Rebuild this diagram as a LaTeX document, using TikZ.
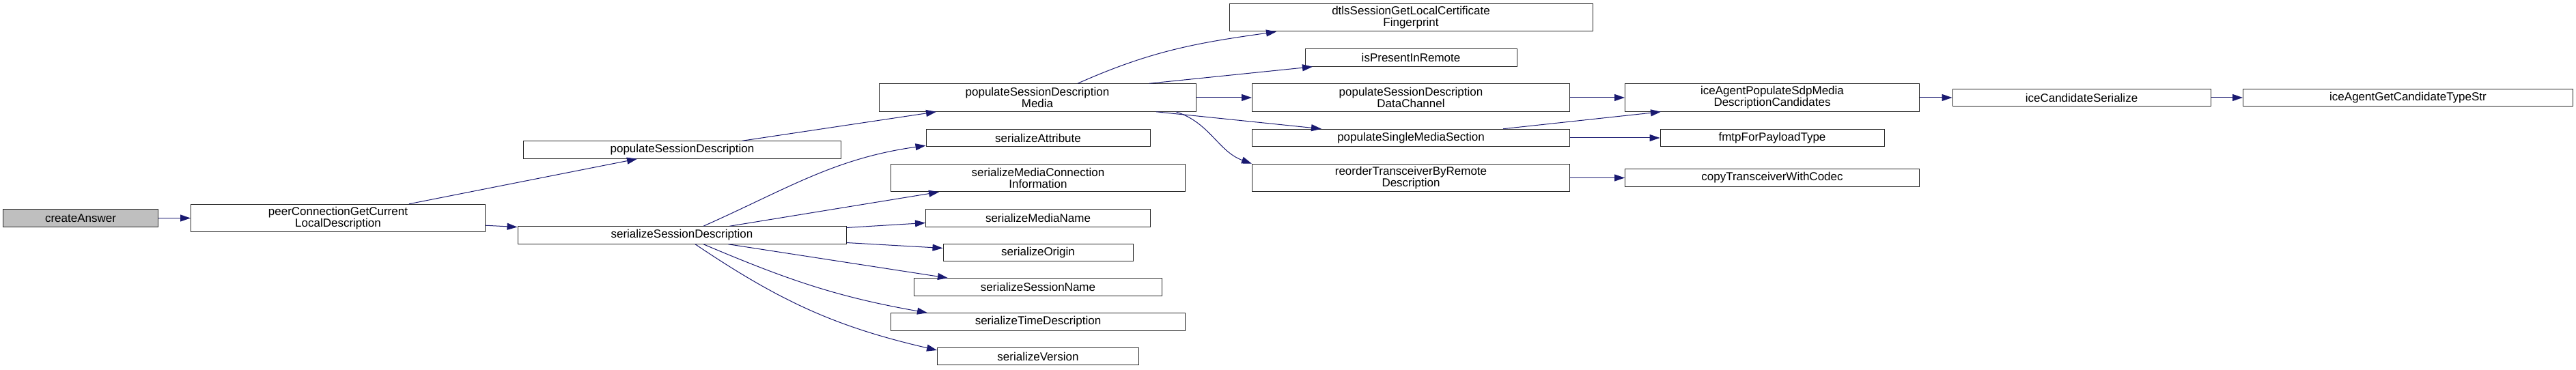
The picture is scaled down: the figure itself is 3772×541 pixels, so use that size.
\documentclass[tikz,border=0pt]{standalone}
\usepackage{fontspec}
\setmainfont{Liberation Sans}
\usetikzlibrary{arrows.meta}
\definecolor{EdgeClr}{RGB}{25,25,112}
\definecolor{RootClr}{RGB}{191,191,191}
\definecolor{FrameClr}{RGB}{40,40,40}

\begin{document}
\begin{tikzpicture}[x=1pt,y=1pt]
\tikzset{fn/.style={draw=FrameClr,fill=white,line width=1pt,inner sep=0pt,align=center,
    font=\fontsize{17}{17}\selectfont,minimum height=25.5pt},
  fntwo/.style={fn,minimum height=40.5pt},
  call/.style={draw=EdgeClr,line width=1pt,-{Triangle[length=15pt,width=10pt]}}}

\useasboundingbox (0,0) rectangle (3772,541);

\node[fn,fill=RootClr,minimum width=227pt] (createAns) at (118,221.5) {createAnswer};
\node[fntwo,minimum width=431pt] (getLocal) at (495,221.5) {peerConnectionGetCurrent\\LocalDescription};

\node[fn,minimum width=465pt] (popSD) at (999,321.5) {populateSessionDescription};
\node[fn,minimum width=481pt] (serSD) at (998.5,196.5) {serializeSessionDescription};

\node[fntwo,minimum width=464pt] (popMedia) at (1519,398) {populateSessionDescription\\Media};
\node[fn,minimum width=328pt] (serAttr) at (1520,339) {serializeAttribute};
\node[fntwo,minimum width=431pt] (serConn) at (1520,280.5) {serializeMediaConnection\\Information};
\node[fn,minimum width=329pt] (serName) at (1520,221.5) {serializeMediaName};
\node[fn,minimum width=278pt] (serOrigin) at (1520,171) {serializeOrigin};
\node[fn,minimum width=363pt] (serSess) at (1520,120.5) {serializeSessionName};
\node[fn,minimum width=431pt] (serTime) at (1520,69.5) {serializeTimeDescription};
\node[fn,minimum width=295pt] (serVer) at (1520,19) {serializeVersion};

\node[fntwo,minimum width=532pt] (dtlsFp) at (2066,515.3) {dtlsSessionGetLocalCertificate\\Fingerprint};
\node[fn,minimum width=310pt] (inRemote) at (2066,456.5) {isPresentInRemote};
\node[fntwo,minimum width=465pt] (popData) at (2066,398) {populateSessionDescription\\DataChannel};
\node[fn,minimum width=465pt] (popSingle) at (2066,339) {populateSingleMediaSection};
\node[fntwo,minimum width=465pt] (reorder) at (2066,280.5) {reorderTransceiverByRemote\\Description};

\node[fntwo,minimum width=431pt] (iceCands) at (2595,398) {iceAgentPopulateSdpMedia\\DescriptionCandidates};
\node[fn,minimum width=328pt] (fmtp) at (2595,339) {fmtpForPayloadType};
\node[fn,minimum width=431pt] (copyTr) at (2595,280.5) {copyTransceiverWithCodec};

\node[fn,minimum width=378pt] (iceSer) at (3048,398) {iceCandidateSerialize};
\node[fn,minimum width=483pt] (iceType) at (3526,398) {iceAgentGetCandidateTypeStr};

% calls
\draw[call] (createAns) -- (getLocal);
\draw[call] ([xshift=104pt]getLocal.north) -- ([xshift=-66pt]popSD.south);
\draw[call] (getLocal) -- (serSD);
\draw[call] ([xshift=88pt]popSD.north) -- ([xshift=-148pt]popMedia.south);

\draw[call] ([xshift=31.5pt]serSD.north) to[out=24,in=188] ([yshift=2pt]serAttr.south west);
\draw[call] ([xshift=70pt]serSD.north) -- ([xshift=-145pt]serConn.south);
\draw[call] ([yshift=11pt]serSD.east) -- ([yshift=-7pt]serName.west);
\draw[call] ([yshift=-11pt]serSD.east) -- ([yshift=6.5pt]serOrigin.west);
\draw[call] ([xshift=68pt]serSD.south) -- ([xshift=-132pt]serSess.north);
\draw[call] ([xshift=31.5pt]serSD.south) to[out=-23,in=170] ([xshift=-162pt]serTime.north);
\draw[call] ([xshift=19.5pt]serSD.south) to[out=-34,in=167] ([yshift=9pt]serVer.west);

\draw[call] ([xshift=59pt]popMedia.north) to[out=24,in=188] ([xshift=-197pt]dtlsFp.south);
\draw[call] ([xshift=164pt]popMedia.north) -- ([xshift=-144pt]inRemote.south);
\draw[call] (popMedia) -- (popData);
\draw[call] ([xshift=174pt]popMedia.south) -- ([xshift=-131pt]popSingle.north);
\draw[call] ([xshift=203pt]popMedia.south) to[out=-18,in=160] (reorder.north west);

\draw[call] (popData) -- (iceCands);
\draw[call] ([xshift=135pt]popSingle.north) -- ([xshift=-163pt]iceCands.south);
\draw[call] (popSingle) -- (fmtp);
\draw[call] (reorder) -- (copyTr);
\draw[call] (iceCands) -- (iceSer);
\draw[call] (iceSer) -- (iceType);

\end{tikzpicture}
\end{document}
